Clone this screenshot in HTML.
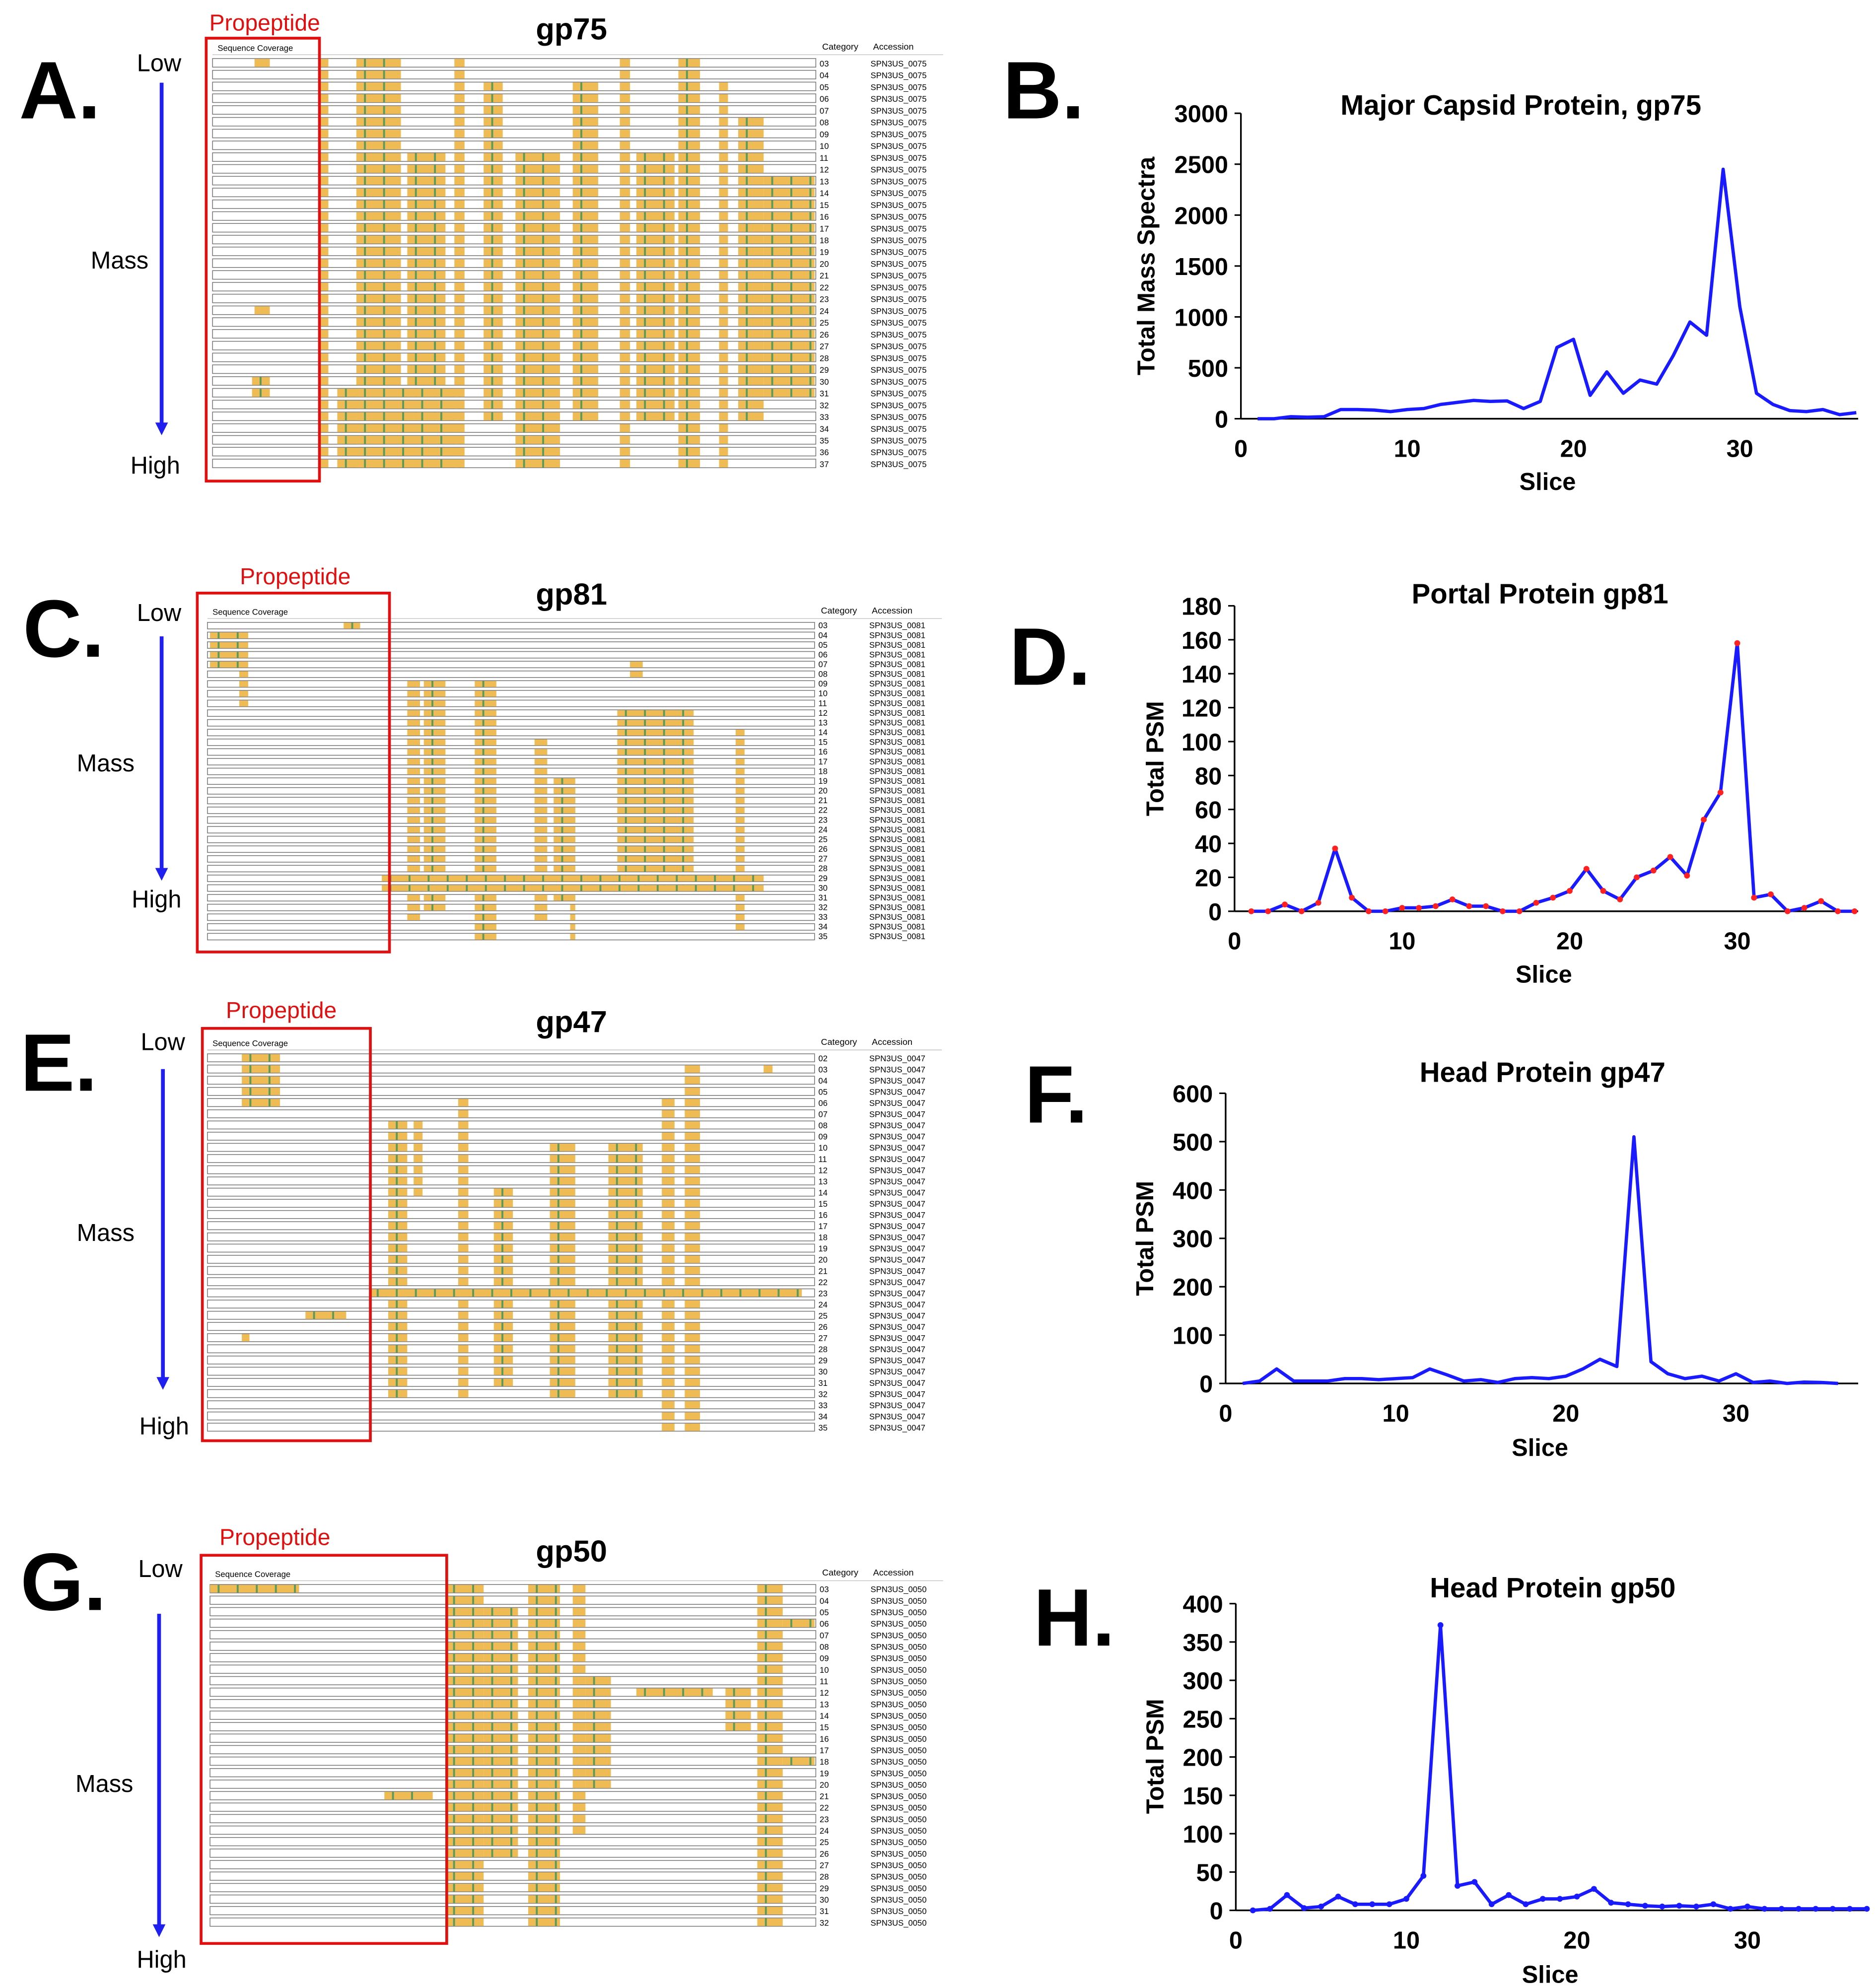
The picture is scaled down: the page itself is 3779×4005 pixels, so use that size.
<!DOCTYPE html>
<html><head><meta charset="utf-8"><style>
html,body{margin:0;padding:0;background:#fff;}
svg{display:block;font-family:"Liberation Sans",Arial,sans-serif;}
</style></head><body>
<svg id="fig" width="3779" height="4005" viewBox="0 0 1474 1562" preserveAspectRatio="none" xmlns="http://www.w3.org/2000/svg"></svg>
<script>
// ---- chart data ----
const capsidSpectra=[0,0,20,15,20,90,90,85,70,90,100,140,160,180,170,175,100,170,700,780,230,460,250,380,340,620,950,820,2450,1100,250,140,80,70,90,40,60];
const portalPSM=[0,0,4,0,5,37,8,0,0,2,2,3,7,3,3,0,0,5,8,12,25,12,7,20,24,32,21,54,70,158,8,10,0,2,6,0,0];
const gp47PSM=[0,5,30,5,5,5,10,10,8,10,12,30,18,5,8,2,10,12,10,15,30,50,35,510,45,20,10,15,5,20,2,5,0,3,2,0];
const gp50PSM=[0,2,20,3,5,18,8,8,8,15,45,372,32,37,8,20,8,15,15,18,28,10,8,6,5,6,5,8,2,5,2,2,2,2,2,2,2];
const xTicks=[0,10,20,30];
const yTicksB=[0,500,1000,1500,2000,2500,3000];
const yTicksD=[0,20,40,60,80,100,120,140,160,180];
const yTicksF=[0,100,200,300,400,500,600];
const yTicksH=[0,50,100,150,200,250,300,350,400];
// coverage blocks: [residueStart, residueEnd, firstRow, lastRow]
const covA=[[252,258,0,34],[280,315,0,34],[320,350,8,30],[357,365,0,34],[380,395,2,30],[405,440,8,34],[450,470,2,30],[487,495,0,34],[500,530,8,30],[533,550,0,34],[565,572,2,34],[580,600,5,30],[600,640,10,28],[265,360,28,34],[200,212,0,0],[200,212,21,21],[198,212,27,28]];
const covC=[[165,195,1,4],[188,195,5,8],[270,283,0,0],[320,330,6,30],[333,350,6,29],[373,390,6,33],[420,430,12,30],[435,452,16,28],[448,452,17,33],[485,545,9,27],[578,585,11,31],[300,600,26,27],[495,505,4,5]];
const covE=[[190,220,0,4],[305,320,6,30],[325,332,6,12],[360,368,4,30],[388,403,12,29],[432,452,8,30],[478,505,8,30],[520,530,4,33],[538,550,1,33],[290,630,21,21],[600,607,1,1],[240,272,23,23],[190,196,25,25]];
const covG=[[165,235,0,0],[350,380,0,29],[380,407,2,23],[415,440,0,29],[450,460,0,21],[460,480,8,17],[500,560,9,9],[570,590,9,12],[595,615,0,29],[615,640,3,3],[615,640,15,15],[302,340,18,18]];

const NS="http://www.w3.org/2000/svg";
const svg=document.getElementById('fig');
function mk(tag,attrs,parent){const e=document.createElementNS(NS,tag);for(const k in attrs)e.setAttribute(k,attrs[k]);(parent||svg).appendChild(e);return e;}
function txt(s,x,y,size,opts,parent){opts=opts||{};const t=mk('text',{x:x,y:y,'font-size':size,'font-weight':opts.bold?'bold':'normal',fill:opts.fill||'#000','text-anchor':opts.anchor||'start'},parent);if(opts.rot)t.setAttribute('transform','rotate(-90 '+x+' '+y+')');t.textContent=s;return t;}

function coverage(p){
  const g=mk('g',{});
  
  
  const n=p.rows.length, rh=(p.y1-p.y0)/n;
  txt('Sequence Coverage',p.x0+4,p.y0-5,6.5,{},g);
  txt('Category',p.x1+5,p.y0-6,7,{},g);
  txt('Accession',p.x1+45,p.y0-6,7,{},g);
  mk('line',{x1:p.x0,y1:p.y0-2,x2:p.x1+100,y2:p.y0-2,stroke:'#bbb','stroke-width':0.5},g);
  p.rows.forEach((r,i)=>{
    const y=p.y0+i*rh;
    const row=mk('rect',{x:p.x0,y:y+1,width:p.x1-p.x0,height:rh-2.5,fill:'#fff',stroke:'#777','stroke-width':0.6},g);
    
    
    txt(r,p.x1+3,y+rh-2,6.5,{},g);
    txt(p.acc,p.x1+43,y+rh-2,6.5,{},g);
  });
  p.blocks.forEach(b=>{
    for(let i=b[2];i<=b[3]&&i<n;i++){
      const y=p.y0+i*rh;
      const r=mk('rect',{x:b[0],y:y+1.3,width:b[1]-b[0],height:rh-3,fill:'#efbb55'},g);
      
      
      if(b[1]-b[0]>12){for(let gx=b[0]+6;gx<b[1]-3;gx+=15)mk('rect',{x:gx,y:y+1.3,width:1.5,height:rh-3,fill:'#5a9a5a'},g);}
    }
  });
  const box=mk('rect',{x:p.box[0],y:p.box[1],width:p.box[2]-p.box[0],height:p.box[3]-p.box[1],fill:'none',stroke:'#e01010','stroke-width':2.2},g);
  
  
  const pt=txt('Propeptide',p.prop[0],p.prop[1],18,{fill:'#e01010',anchor:'middle'});
  
  
  const tt=txt(p.title,449,p.titleY,24,{bold:true,anchor:'middle'});
  
  
  const L=txt(p.letter,p.letterPos[0],p.letterPos[1],64,{bold:true});
  
  
  txt('Low',p.low[0],p.low[1],19,{anchor:'middle'});
  txt('Mass',p.mass[0],p.mass[1],19,{anchor:'middle'});
  txt('High',p.high[0],p.high[1],19,{anchor:'middle'});
  const a=p.arrow;
  const ar=mk('line',{x1:a[0],y1:a[1],x2:a[0],y2:a[2]-8,stroke:'#1f1ff0','stroke-width':3});
  
  
  mk('polygon',{points:(a[0]-5)+','+(a[2]-10)+' '+(a[0]+5)+','+(a[2]-10)+' '+a[0]+','+a[2],fill:'#1f1ff0'});
}
function rng(a,b){const r=[];for(let i=a;i<=b;i++)r.push(String(i).padStart(2,'0'));return r;}

coverage({name:'gp75',rows:rng(3,37),x0:167,x1:641,y0:45,y1:369,blocks:covA,acc:'SPN3US_0075',box:[162,30,251,378],prop:[208,24],title:'gp75',titleY:31,letter:'A.',letterPos:[15,93],low:[125,56],mass:[94,211],high:[122,372],arrow:[127,65,342]});
coverage({name:'gp81',rows:rng(3,35),x0:163,x1:640,y0:488,y1:740,blocks:covC,acc:'SPN3US_0081',box:[155,466,306,748],prop:[232,459],title:'gp81',titleY:475,letter:'C.',letterPos:[18,516],low:[125,488],mass:[83,606],high:[123,713],arrow:[127,500,692]});
coverage({name:'gp47',rows:rng(2,35),x0:163,x1:640,y0:827,y1:1126,blocks:covE,acc:'SPN3US_0047',box:[159,808,291,1132],prop:[221,800],title:'gp47',titleY:811,letter:'E.',letterPos:[16,857],low:[128,825],mass:[83,975],high:[129,1127],arrow:[128,840,1092]});
coverage({name:'gp50',rows:rng(3,32),x0:165,x1:641,y0:1244,y1:1515,blocks:covG,acc:'SPN3US_0050',box:[158,1222,351,1527],prop:[216,1214],title:'gp50',titleY:1227,letter:'G.',letterPos:[16,1265],low:[126,1239],mass:[82,1408],high:[127,1546],arrow:[125,1268,1522]});

function chart(c){
  const g=mk('g',{});
  
  
  const xs=v=>c.x0+(v/30)*(c.x30-c.x0);
  const ymax=c.yt[c.yt.length-1];
  const ys=v=>c.y0-(v/ymax)*(c.y0-c.ytop);
  const xa=mk('line',{x1:c.x0,y1:c.y0,x2:c.xend,y2:c.y0,stroke:'#000','stroke-width':1.3},g);
  
  
  const ya=mk('line',{x1:c.x0,y1:c.y0,x2:c.x0,y2:c.ytop,stroke:'#000','stroke-width':1.3},g);
  
  
  xTicks.forEach(t=>{const l=txt(String(t),xs(t),c.y0+30,19,{bold:true,anchor:'middle'},g);
    
    });
  c.yt.forEach(t=>{mk('line',{x1:c.x0-5,y1:ys(t),x2:c.x0,y2:ys(t),stroke:'#000','stroke-width':1.2},g);
    const l=txt(String(t),c.x0-10,ys(t)+7,19,{bold:true,anchor:'end'},g);
    
    });
  const pts=c.data.map((v,i)=>xs(i+1).toFixed(1)+','+ys(v).toFixed(1)).join(' ');
  const pl=mk('polyline',{points:pts,fill:'none',stroke:'#1a1aff','stroke-width':2.6,'stroke-linejoin':'round'},g);
  
  
  if(c.marker){c.data.forEach((v,i)=>{const m=mk('circle',{cx:xs(i+1),cy:ys(v),r:2.3,fill:c.marker},g);
    
    });}
  const t=txt(c.title,c.tx,c.ty,22,{bold:true,anchor:'middle'},g);
  
  
  const xl=txt('Slice',c.sx,c.sy,19,{bold:true,anchor:'middle'},g);
  
  
  const yl=txt(c.ylabel,c.yx,c.yy,19,{bold:true,anchor:'middle',rot:true},g);
  
  
  const L=txt(c.letter,c.lx,c.ly,64,{bold:true});
  
  
}
chart({name:'capsid-chart',data:capsidSpectra,yt:yTicksB,x0:975,x30:1367,xend:1460,y0:329,ytop:89,title:'Major Capsid Protein, gp75',tx:1195,ty:90,sx:1216,sy:385,ylabel:'Total Mass Spectra',yx:907,yy:209,letter:'B.',lx:788,ly:93});
chart({name:'portal-chart',data:portalPSM,yt:yTicksD,x0:970,x30:1365,xend:1460,y0:716,ytop:476,title:'Portal Protein gp81',tx:1210,ty:474,sx:1213,sy:772,ylabel:'Total PSM',yx:914,yy:596,letter:'D.',lx:793,ly:538,marker:'#ff2020'});
chart({name:'gp47-chart',data:gp47PSM,yt:yTicksF,x0:963,x30:1364,xend:1460,y0:1087,ytop:859,title:'Head Protein gp47',tx:1212,ty:850,sx:1210,sy:1144,ylabel:'Total PSM',yx:906,yy:973,letter:'F.',lx:805,ly:882});
chart({name:'gp50-chart',data:gp50PSM,yt:yTicksH,x0:971,x30:1373,xend:1468,y0:1501,ytop:1260,title:'Head Protein gp50',tx:1220,ty:1255,sx:1218,sy:1558,ylabel:'Total PSM',yx:914,yy:1380,letter:'H.',lx:812,ly:1293,marker:'#1a1aff'});
</script>
</body></html>
